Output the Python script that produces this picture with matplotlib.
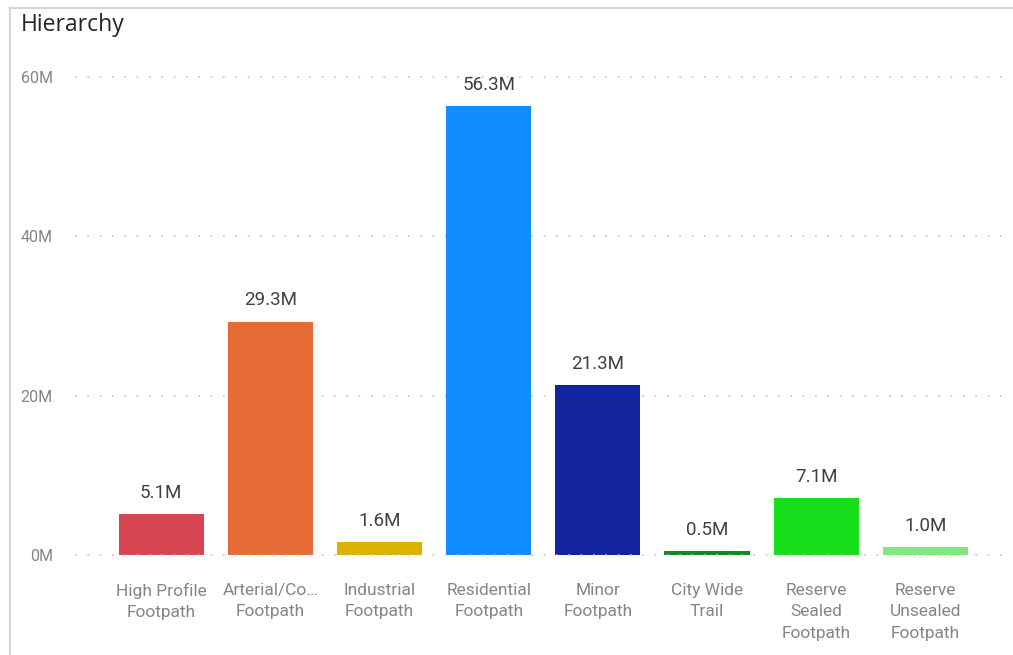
import matplotlib
matplotlib.use("Agg")
import matplotlib.pyplot as plt
from matplotlib.lines import Line2D

# Footpath length by hierarchy (millions)
categories = [
    "High Profile\nFootpath",
    "Arterial/Co…\nFootpath",
    "Industrial\nFootpath",
    "Residential\nFootpath",
    "Minor\nFootpath",
    "City Wide\nTrail",
    "Reserve\nSealed\nFootpath",
    "Reserve\nUnsealed\nFootpath",
]
values = [5.1, 29.3, 1.6, 56.3, 21.3, 0.5, 7.1, 1.0]
colors = ["#D64550", "#E66C37", "#D9B300", "#118DFF",
          "#12239E", "#0D8A22", "#16DE1B", "#7EE87E"]
yticks = [0, 20, 40, 60]

plt.rcParams["font.family"] = ["Roboto", "DejaVu Sans"]

W, H = 1013, 655
fig = plt.figure(figsize=(W / 100, H / 100), dpi=100)
fig.patch.set_facecolor("white")

# light card border on the left and top
fig.add_artist(Line2D([10 / W, 10 / W], [0, 1 - 8 / H], transform=fig.transFigure,
                      color="#D6D6D6", lw=1.6))
fig.add_artist(Line2D([10 / W, 1], [1 - 8 / H, 1 - 8 / H], transform=fig.transFigure,
                      color="#D6D6D6", lw=1.6))

fig.text(21 / W, 1 - 25 / H, "Hierarchy", fontsize=16.5, color="#252423",
         ha="left", va="center", family=["Open Sans", "DejaVu Sans"])

left, right = 75 / W, 1005 / W
bottom, top = (H - 555) / H, (H - 77) / H
ax = fig.add_axes([left, bottom, right - left, top - bottom])

x = list(range(len(categories)))
bars = ax.bar(x, values, width=0.78, color=colors, zorder=2)

ax.set_xlim(-0.79, 7.73)
ax.set_ylim(0, 60)

for b, v in zip(bars, values):
    ax.annotate(f"{v:.1f}M", (b.get_x() + b.get_width() / 2, v),
                xytext=(0, 9), textcoords="offset points",
                ha="center", va="bottom", fontsize=13.5, color="#404040",
                clip_on=False)

for yv in yticks:
    ax.axhline(yv, color="#C4C4C4", lw=1.2, linestyle=(0, (1, 6.4)),
               zorder=3 if yv == 0 else 1, clip_on=False)

ax.set_yticks(yticks)
ax.set_yticklabels([f"{t}M" for t in yticks])
ax.set_xticks(x)
ax.set_xticklabels(categories, linespacing=1.55)
ax.tick_params(axis="both", length=0, labelcolor="#858585")
ax.tick_params(axis="y", pad=16, labelsize=11.5)
ax.tick_params(axis="x", pad=20, labelsize=12.5)
for s in ax.spines.values():
    s.set_visible(False)
ax.set_facecolor("none")

fig.savefig("out.png", dpi=100)
